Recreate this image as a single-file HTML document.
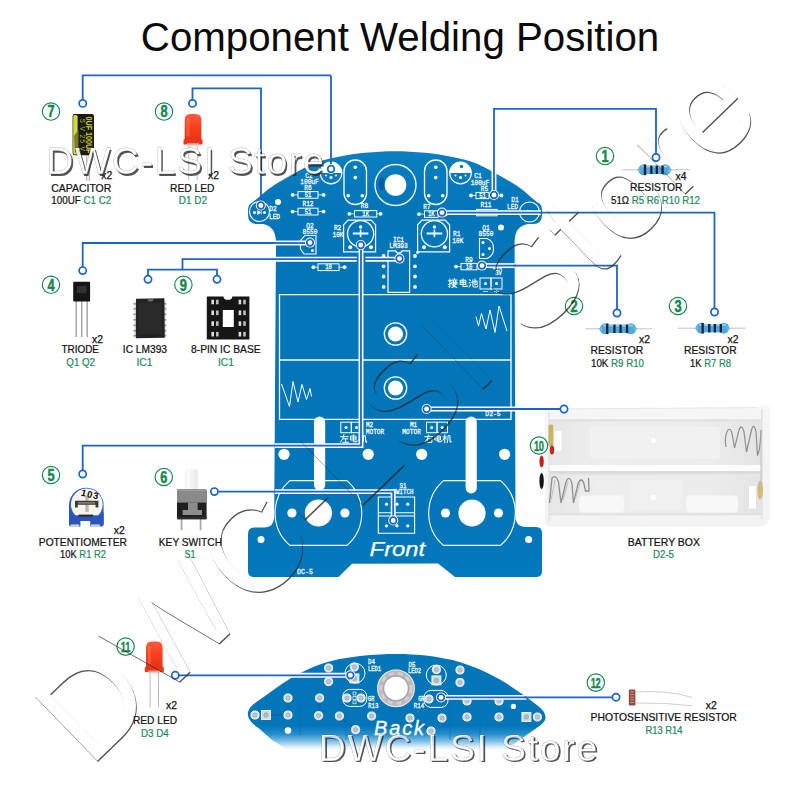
<!DOCTYPE html>
<html><head><meta charset="utf-8"><title>Component Welding Position</title>
<style>html,body{margin:0;padding:0;background:#fff;}body{width:800px;height:800px;overflow:hidden;}svg{display:block;font-family:"Liberation Sans",sans-serif;}</style></head>
<body>
<svg width="800" height="800" viewBox="0 0 800 800">
<rect width="800" height="800" fill="#fff"/>
<text x="400" y="50.5" font-size="40.25" fill="#0b0b0b" text-anchor="middle" id="title">Component Welding Position</text>
<defs><linearGradient id="fb" gradientUnits="userSpaceOnUse" x1="0" y1="150" x2="0" y2="577"><stop offset="0" stop-color="#0a80c0"/><stop offset="0.14" stop-color="#0375b9"/><stop offset="0.8" stop-color="#0375b9"/><stop offset="1" stop-color="#0478bc"/></linearGradient></defs><path d="M252,202.79999999999998 C253.0,202.0 255.0,200.4 258,197.89999999999998 C261.0,195.4 264.7,191.6 270,187.89999999999998 C275.3,184.2 282.5,179.9 290,175.7 C297.5,171.5 307.1,166.0 315,162.89999999999998 C322.9,159.8 329.2,158.6 337.5,156.89999999999998 C345.8,155.2 355.4,153.6 365,152.7 C374.6,151.8 385.0,151.2 395,151.2 C405.0,151.2 415.4,151.8 425,152.7 C434.6,153.6 444.2,155.2 452.5,156.89999999999998 C460.8,158.6 467.1,159.8 475,162.89999999999998 C482.9,166.0 492.5,171.5 500,175.7 C507.5,179.9 514.7,184.2 520,187.89999999999998 C525.3,191.6 529.0,195.4 532,197.89999999999998 C535.0,200.4 537.0,202.0 538,202.79999999999998 Q542,204.5 542,210 L542,215 Q542,224 533,224 L528,224 Q514.6,226 514.6,242 L515.5,516 Q515.5,527 526,527 L536,527 Q542,527 542,533 L542,571 Q542,577 536,577 L455,577 L438,563.6 L352,563.8 L338.5,577 L254,577 Q248,577 248,571 L248,534 Q248,527.5 254,527.5 L264,527.5 Q274,527.5 274.2,516 L276,242 Q275.5,226 263,224 L257,224 Q248,224 248,215 L248,210 Q248,204.5 252,202.8 Z" fill="url(#fb)"/>
<g><circle cx="395.5" cy="185" r="20.5" fill="none" stroke="#fff" stroke-width="1.3"/><ellipse cx="381.6" cy="184" rx="3" ry="6.4" fill="#0a4fa0" opacity="0.75"/><circle cx="395.5" cy="185" r="10.8" fill="#fff"/><rect x="344" y="160" width="22.5" height="44.5" rx="11.2" fill="none" stroke="#fff" stroke-width="1.3"/><circle cx="355.25" cy="167.2" r="1.8" fill="#fff"/><circle cx="355.25" cy="177.6" r="1.8" fill="#fff"/><circle cx="348.25" cy="195.8" r="1.8" fill="#fff"/><circle cx="362.25" cy="195.8" r="1.8" fill="#fff"/><rect x="424.5" y="160" width="22.5" height="44.5" rx="11.2" fill="none" stroke="#fff" stroke-width="1.3"/><circle cx="435.75" cy="167.2" r="1.8" fill="#fff"/><circle cx="435.75" cy="177.6" r="1.8" fill="#fff"/><circle cx="428.75" cy="195.8" r="1.8" fill="#fff"/><circle cx="442.75" cy="195.8" r="1.8" fill="#fff"/><circle cx="331" cy="173" r="10.8" fill="none" stroke="#fff" stroke-width="1.2"/><path d="M320.2,173 A10.8,10.8 0 0 1 341.8,173 Z" fill="#fff"/><circle cx="331" cy="177.5" r="1.6" fill="#fff"/><circle cx="326" cy="175.5" r="1.0" fill="#fff"/><circle cx="336" cy="175.5" r="1.0" fill="#fff"/><circle cx="460.5" cy="173" r="10.8" fill="none" stroke="#fff" stroke-width="1.2"/><path d="M449.7,173 A10.8,10.8 0 0 1 471.3,173 Z" fill="#fff"/><circle cx="460.5" cy="177.5" r="1.6" fill="#fff"/><circle cx="455.5" cy="175.5" r="1.0" fill="#fff"/><circle cx="465.5" cy="175.5" r="1.0" fill="#fff"/><circle cx="461.5" cy="166.5" r="1.7" fill="#0375b9"/><circle cx="259.5" cy="211.5" r="10" fill="none" stroke="#fff" stroke-width="1.1"/><circle cx="254.5" cy="212.5" r="1.5" fill="#fff"/><circle cx="264.5" cy="212.5" r="1.5" fill="#fff"/><path d="M257.5,210.5 L257.5,214.5 L261,212.5 Z M261.3,210.5 L261.3,214.5" fill="#fff" stroke="#fff" stroke-width="0.6"/><circle cx="529.5" cy="212" r="10" fill="none" stroke="#fff" stroke-width="1.1"/><path d="M527.5,210 L527.5,214 L531,212 Z M531.3,210 L531.3,214" fill="#fff" stroke="#fff" stroke-width="0.6"/><circle cx="278" cy="202" r="3" fill="#fff"/><circle cx="501" cy="227.6" r="3" fill="#fff"/><text transform="translate(273,211) scale(1,1.18)" font-size="6.2" fill="#fff" text-anchor="middle" font-family="Liberation Mono, monospace" stroke="#fff" stroke-width="0.22" >D2</text><text transform="translate(274.5,218.6) scale(1,1.18)" font-size="6.2" fill="#fff" text-anchor="middle" font-family="Liberation Mono, monospace" stroke="#fff" stroke-width="0.22" >LED</text><text transform="translate(515,202) scale(1,1.18)" font-size="6.2" fill="#fff" text-anchor="middle" font-family="Liberation Mono, monospace" stroke="#fff" stroke-width="0.22" >D1</text><text transform="translate(512.5,209.4) scale(1,1.18)" font-size="6.2" fill="#fff" text-anchor="middle" font-family="Liberation Mono, monospace" stroke="#fff" stroke-width="0.22" >LED</text><text transform="translate(309,177.6) scale(1,1.18)" font-size="6.2" fill="#fff" text-anchor="middle" font-family="Liberation Mono, monospace" stroke="#fff" stroke-width="0.22" >C2</text><text transform="translate(309.5,184.2) scale(1,1.18)" font-size="6.2" fill="#fff" text-anchor="middle" font-family="Liberation Mono, monospace" stroke="#fff" stroke-width="0.22" >100uF</text><text transform="translate(308,190.3) scale(1,1.18)" font-size="6.2" fill="#fff" text-anchor="middle" font-family="Liberation Mono, monospace" stroke="#fff" stroke-width="0.22" >R6</text><text transform="translate(478,178) scale(1,1.18)" font-size="6.2" fill="#fff" text-anchor="middle" font-family="Liberation Mono, monospace" stroke="#fff" stroke-width="0.22" >C1</text><text transform="translate(480,184.6) scale(1,1.18)" font-size="6.2" fill="#fff" text-anchor="middle" font-family="Liberation Mono, monospace" stroke="#fff" stroke-width="0.22" >100uF</text><text transform="translate(484.5,191) scale(1,1.18)" font-size="6.2" fill="#fff" text-anchor="middle" font-family="Liberation Mono, monospace" stroke="#fff" stroke-width="0.22" >R5</text><rect x="298" y="191.6" width="20" height="6.599999999999994" fill="none" stroke="#fff" stroke-width="1"/><line x1="292.6" y1="194.89999999999998" x2="298" y2="194.89999999999998" stroke="#fff" stroke-width="0.8"/><line x1="318" y1="194.89999999999998" x2="323.6" y2="194.89999999999998" stroke="#fff" stroke-width="0.8"/><circle cx="292.6" cy="194.89999999999998" r="1.9" fill="#fff"/><circle cx="323.6" cy="194.89999999999998" r="1.9" fill="#fff"/><text transform="translate(308.0,197.09999999999997) scale(1,1.18)" font-size="5.6" fill="#fff" text-anchor="middle" font-family="Liberation Mono, monospace" stroke="#fff" stroke-width="0.22" >51</text><text transform="translate(308,206) scale(1,1.18)" font-size="6.2" fill="#fff" text-anchor="middle" font-family="Liberation Mono, monospace" stroke="#fff" stroke-width="0.22" >R12</text><rect x="298" y="208.2" width="20" height="6.800000000000011" fill="none" stroke="#fff" stroke-width="1"/><line x1="292.6" y1="211.6" x2="298" y2="211.6" stroke="#fff" stroke-width="0.8"/><line x1="318" y1="211.6" x2="323.6" y2="211.6" stroke="#fff" stroke-width="0.8"/><circle cx="292.6" cy="211.6" r="1.9" fill="#fff"/><circle cx="323.6" cy="211.6" r="1.9" fill="#fff"/><text transform="translate(308.0,213.79999999999998) scale(1,1.18)" font-size="5.6" fill="#fff" text-anchor="middle" font-family="Liberation Mono, monospace" stroke="#fff" stroke-width="0.22" >51</text><text transform="translate(364.5,208) scale(1,1.18)" font-size="6.2" fill="#fff" text-anchor="middle" font-family="Liberation Mono, monospace" stroke="#fff" stroke-width="0.22" >R8</text><rect x="354.6" y="210.6" width="22.19999999999999" height="6.400000000000006" fill="none" stroke="#fff" stroke-width="1"/><line x1="349.4" y1="213.8" x2="354.6" y2="213.8" stroke="#fff" stroke-width="0.8"/><line x1="376.8" y1="213.8" x2="380.6" y2="213.8" stroke="#fff" stroke-width="0.8"/><circle cx="349.4" cy="213.8" r="1.9" fill="#fff"/><circle cx="380.6" cy="213.8" r="1.9" fill="#fff"/><text transform="translate(365.70000000000005,216.0) scale(1,1.18)" font-size="5.6" fill="#fff" text-anchor="middle" font-family="Liberation Mono, monospace" stroke="#fff" stroke-width="0.22" >1K</text><text transform="translate(427,208.5) scale(1,1.18)" font-size="6.2" fill="#fff" text-anchor="middle" font-family="Liberation Mono, monospace" stroke="#fff" stroke-width="0.22" >R7</text><rect x="424.5" y="210.8" width="13.5" height="6.599999999999994" fill="none" stroke="#fff" stroke-width="1"/><line x1="419" y1="214.10000000000002" x2="424.5" y2="214.10000000000002" stroke="#fff" stroke-width="0.8"/><line x1="438" y1="214.10000000000002" x2="446" y2="214.10000000000002" stroke="#fff" stroke-width="0.8"/><circle cx="419" cy="214.10000000000002" r="1.9" fill="#fff"/><circle cx="446" cy="214.10000000000002" r="1.9" fill="#fff"/><text transform="translate(431.25,216.3) scale(1,1.18)" font-size="5.6" fill="#fff" text-anchor="middle" font-family="Liberation Mono, monospace" stroke="#fff" stroke-width="0.22" >1K</text><rect x="476" y="192.4" width="13" height="6.199999999999989" fill="none" stroke="#fff" stroke-width="1"/><line x1="471" y1="195.5" x2="476" y2="195.5" stroke="#fff" stroke-width="0.8"/><line x1="489" y1="195.5" x2="501.4" y2="195.5" stroke="#fff" stroke-width="0.8"/><circle cx="471" cy="195.5" r="1.9" fill="#fff"/><circle cx="501.4" cy="195.5" r="1.9" fill="#fff"/><text transform="translate(482.5,197.7) scale(1,1.18)" font-size="5.6" fill="#fff" text-anchor="middle" font-family="Liberation Mono, monospace" stroke="#fff" stroke-width="0.22" >51</text><text transform="translate(486,206.6) scale(1,1.18)" font-size="6.2" fill="#fff" text-anchor="middle" font-family="Liberation Mono, monospace" stroke="#fff" stroke-width="0.22" >R11</text><rect x="476.5" y="209.4" width="20.5" height="6.400000000000006" fill="none" stroke="#fff" stroke-width="1"/><line x1="472" y1="212.60000000000002" x2="476.5" y2="212.60000000000002" stroke="#fff" stroke-width="0.8"/><line x1="497" y1="212.60000000000002" x2="501" y2="212.60000000000002" stroke="#fff" stroke-width="0.8"/><circle cx="472" cy="212.60000000000002" r="1.9" fill="#fff"/><circle cx="501" cy="212.60000000000002" r="1.9" fill="#fff"/><rect x="318" y="263.8" width="21" height="6.800000000000011" fill="none" stroke="#fff" stroke-width="1"/><line x1="313.4" y1="267.20000000000005" x2="318" y2="267.20000000000005" stroke="#fff" stroke-width="0.8"/><line x1="339" y1="267.20000000000005" x2="344.6" y2="267.20000000000005" stroke="#fff" stroke-width="0.8"/><circle cx="313.4" cy="267.20000000000005" r="1.9" fill="#fff"/><circle cx="344.6" cy="267.20000000000005" r="1.9" fill="#fff"/><text transform="translate(328.5,269.40000000000003) scale(1,1.18)" font-size="5.6" fill="#fff" text-anchor="middle" font-family="Liberation Mono, monospace" stroke="#fff" stroke-width="0.22" >10</text><text transform="translate(469,262) scale(1,1.18)" font-size="6.2" fill="#fff" text-anchor="middle" font-family="Liberation Mono, monospace" stroke="#fff" stroke-width="0.22" >R9</text><rect x="461" y="263.4" width="16" height="6.400000000000034" fill="none" stroke="#fff" stroke-width="1"/><line x1="456" y1="266.6" x2="461" y2="266.6" stroke="#fff" stroke-width="0.8"/><line x1="477" y1="266.6" x2="484" y2="266.6" stroke="#fff" stroke-width="0.8"/><circle cx="456" cy="266.6" r="1.9" fill="#fff"/><circle cx="484" cy="266.6" r="1.9" fill="#fff"/><text transform="translate(469.0,268.8) scale(1,1.18)" font-size="5.6" fill="#fff" text-anchor="middle" font-family="Liberation Mono, monospace" stroke="#fff" stroke-width="0.22" >10</text><path d="M348.1,220.2 L371.1,220.2 L375.6,224.8 L375.6,251.8 L343.6,251.8 L343.6,224.8 Z" fill="none" stroke="#fff" stroke-width="1.2"/><circle cx="360.6" cy="233.7" r="13.1" fill="none" stroke="#fff" stroke-width="1.3"/><path d="M352.8,233.5 H368.40000000000003" stroke="#fff" stroke-width="2"/><path d="M360.6,229.6 V237.2" stroke="#fff" stroke-width="1.6"/><circle cx="360.6" cy="227" r="1.7" fill="#fff"/><circle cx="350.20000000000005" cy="247.3" r="2" fill="#fff"/><circle cx="371.0" cy="247.3" r="2" fill="#fff"/><path d="M422.1,220.2 L445.1,220.2 L449.6,224.8 L449.6,251.8 L417.6,251.8 L417.6,224.8 Z" fill="none" stroke="#fff" stroke-width="1.2"/><circle cx="434.4" cy="233.7" r="13.1" fill="none" stroke="#fff" stroke-width="1.3"/><path d="M426.59999999999997,233.5 H442.2" stroke="#fff" stroke-width="2"/><path d="M434.4,229.6 V237.2" stroke="#fff" stroke-width="1.6"/><circle cx="434.4" cy="227" r="1.7" fill="#fff"/><circle cx="424.0" cy="247.3" r="2" fill="#fff"/><circle cx="444.79999999999995" cy="247.3" r="2" fill="#fff"/><text transform="translate(337.6,229.6) scale(1,1.18)" font-size="6.2" fill="#fff" text-anchor="middle" font-family="Liberation Mono, monospace" stroke="#fff" stroke-width="0.22" >R2</text><text transform="translate(338,237) scale(1,1.18)" font-size="6.2" fill="#fff" text-anchor="middle" font-family="Liberation Mono, monospace" stroke="#fff" stroke-width="0.22" >10K</text><text transform="translate(456.8,235.6) scale(1,1.18)" font-size="6.2" fill="#fff" text-anchor="middle" font-family="Liberation Mono, monospace" stroke="#fff" stroke-width="0.22" >R1</text><text transform="translate(457.8,242.6) scale(1,1.18)" font-size="6.2" fill="#fff" text-anchor="middle" font-family="Liberation Mono, monospace" stroke="#fff" stroke-width="0.22" >10K</text><text transform="translate(310,228.4) scale(1,1.18)" font-size="6.2" fill="#fff" text-anchor="middle" font-family="Liberation Mono, monospace" stroke="#fff" stroke-width="0.22" >Q2</text><text transform="translate(310,234.2) scale(1,1.18)" font-size="6.2" fill="#fff" text-anchor="middle" font-family="Liberation Mono, monospace" stroke="#fff" stroke-width="0.22" >8550</text><path d="M305,235.5 L316,235.5 L316,254 L304,254 L300.5,249 L300.5,240.5 Z" fill="none" stroke="#fff" stroke-width="1.1"/><circle cx="312.5" cy="250.5" r="1.5" fill="#fff"/><text transform="translate(486,230.2) scale(1,1.18)" font-size="6.2" fill="#fff" text-anchor="middle" font-family="Liberation Mono, monospace" stroke="#fff" stroke-width="0.22" >Q1</text><text transform="translate(486,236.2) scale(1,1.18)" font-size="6.2" fill="#fff" text-anchor="middle" font-family="Liberation Mono, monospace" stroke="#fff" stroke-width="0.22" >8550</text><path d="M479.5,238.5 L487,238.5 Q493.5,241 493.5,248.5 Q493.5,256 487,258.5 L479.5,258.5 Z" fill="none" stroke="#fff" stroke-width="1.1"/><circle cx="483" cy="242.5" r="1.5" fill="#fff"/><circle cx="489.5" cy="248.5" r="1.5" fill="#fff"/><circle cx="483" cy="254.5" r="1.5" fill="#fff"/><text transform="translate(398.5,241.6) scale(1,1.18)" font-size="6.2" fill="#fff" text-anchor="middle" font-family="Liberation Mono, monospace" stroke="#fff" stroke-width="0.22" >IC1</text><text transform="translate(398.5,248) scale(1,1.18)" font-size="6.2" fill="#fff" text-anchor="middle" font-family="Liberation Mono, monospace" stroke="#fff" stroke-width="0.22" >LM393</text><path d="M388,250.8 L395.5,250.8 A3.4,3.4 0 0 0 402,250.8 L409.6,250.8 L409.6,292.4 L388,292.4 Z" fill="none" stroke="#fff" stroke-width="1.2"/><circle cx="383.6" cy="256" r="1.9" fill="#fff"/><circle cx="415" cy="256" r="1.9" fill="#fff"/><circle cx="383.6" cy="266.3" r="1.9" fill="#fff"/><circle cx="415" cy="266.3" r="1.9" fill="#fff"/><circle cx="383.6" cy="276.5" r="1.9" fill="#fff"/><circle cx="415" cy="276.5" r="1.9" fill="#fff"/><circle cx="383.6" cy="286.9" r="1.9" fill="#fff"/><circle cx="415" cy="286.9" r="1.9" fill="#fff"/><circle cx="417.5" cy="252.5" r="1.4" fill="#fff"/><path transform="translate(448.00,278.4) scale(0.940)" d="M0.3,2.6 H3.6 M2,0.4 V8.8 Q2,9.6 0.8,9 M0.3,6.6 L3.6,5 M6.8,0.2 V1.4 M4.4,1.6 H9.6 M5.4,2.3 L5.9,3.6 M8.4,2.3 L7.9,3.6 M4,4.1 H9.8 M6.6,4.4 L5.2,7.6 L9.2,9.6 M8.6,5 Q7.6,8.6 4.2,9.7 M4,6 H9.8" fill="none" stroke="#fff" stroke-width="1.12" stroke-linecap="round" stroke-linejoin="round"/><path transform="translate(458.30,278.4) scale(0.940)" d="M2,2 H8 V6.5 H2 Z M2,4.25 H8 M5,0.4 V8.6 H9.2 V7.4" fill="none" stroke="#fff" stroke-width="1.12" stroke-linecap="round" stroke-linejoin="round"/><path transform="translate(468.60,278.4) scale(0.940)" d="M0.8,1.4 L2,2.4 M0.5,4.4 L1.7,5.2 M0.5,9.2 L2.2,6.6 M3.4,4.2 L9,2.8 V6 Q9,6.6 7.9,6.3 M4.6,1.4 V8 Q4.6,9.1 6,9.1 H9 Q9.8,9.1 9.8,7.6 M6.8,0.4 V7" fill="none" stroke="#fff" stroke-width="1.12" stroke-linecap="round" stroke-linejoin="round"/><rect x="480" y="278" width="11" height="11" fill="none" stroke="#fff" stroke-width="1"/><rect x="491" y="278" width="11" height="11" fill="none" stroke="#fff" stroke-width="1"/><circle cx="485.5" cy="283.5" r="1.5" fill="#fff"/><circle cx="496.5" cy="283.5" r="1.5" fill="#fff"/><text transform="translate(498.6,275.2) scale(1,1.18)" font-size="5.6" fill="#fff" text-anchor="middle" font-family="Liberation Mono, monospace" stroke="#fff" stroke-width="0.22" >3V</text><text transform="translate(497.5,269.2) scale(1,1.18)" font-size="5.2" fill="#fff" text-anchor="middle" font-family="Liberation Mono, monospace" stroke="#fff" stroke-width="0.22" >BT1</text><path d="M483,291.5 h5 M494,291.5 h5 M496.5,290 v3" stroke="#fff" stroke-width="0.7"/><path d="M279.5,294.6 H511 V419.3 H279.5 Z M279.5,360 H511" fill="none" stroke="#fff" stroke-width="1.3"/><path d="M281.5,384 L289.5,406.5 L293,381.5 L298,402 L302,384.5 L306.5,399.5 L310,388.5 L311.5,396.5" fill="none" stroke="#fff" stroke-width="1"/><path d="M476,316.5 L478.5,326 L481.5,313.5 L486,329 L490,310 L495,332.5 L499,306 L507,331" fill="none" stroke="#fff" stroke-width="1"/><circle cx="395.5" cy="334" r="11.2" fill="none" stroke="#fff" stroke-width="1.3"/><circle cx="395.5" cy="334" r="7.6" fill="#fff"/><circle cx="395.5" cy="388" r="11.2" fill="none" stroke="#fff" stroke-width="1.3"/><circle cx="395.5" cy="388" r="7.6" fill="#fff"/><text transform="translate(493,416.2) scale(1,1.18)" font-size="6.4" fill="#fff" text-anchor="middle" font-family="Liberation Mono, monospace" stroke="#fff" stroke-width="0.22" >D2-5</text><rect x="314" y="416.5" width="11.2" height="74" rx="5.6" fill="#fff"/><rect x="465.6" y="416.5" width="11.2" height="77" rx="5.6" fill="#fff"/><rect x="340.8" y="422.2" width="10.5" height="10.5" fill="none" stroke="#fff" stroke-width="1"/><rect x="351.3" y="422.2" width="10.5" height="10.5" fill="none" stroke="#fff" stroke-width="1"/><circle cx="346.0" cy="427.5" r="1.5" fill="#fff"/><circle cx="356.5" cy="427.5" r="1.5" fill="#fff"/><rect x="426.5" y="422.2" width="10.5" height="10.5" fill="none" stroke="#fff" stroke-width="1"/><rect x="437.0" y="422.2" width="10.5" height="10.5" fill="none" stroke="#fff" stroke-width="1"/><circle cx="431.7" cy="427.5" r="1.5" fill="#fff"/><circle cx="442.2" cy="427.5" r="1.5" fill="#fff"/><text transform="translate(369.5,427) scale(1,1.18)" font-size="6" fill="#fff" text-anchor="middle" font-family="Liberation Mono, monospace" stroke="#fff" stroke-width="0.22" >M2</text><text transform="translate(375,433.6) scale(1,1.18)" font-size="6.2" fill="#fff" text-anchor="middle" font-family="Liberation Mono, monospace" stroke="#fff" stroke-width="0.22" >MOTOR</text><text transform="translate(413.5,427) scale(1,1.18)" font-size="6" fill="#fff" text-anchor="middle" font-family="Liberation Mono, monospace" stroke="#fff" stroke-width="0.22" >M1</text><text transform="translate(411.6,433.6) scale(1,1.18)" font-size="6.2" fill="#fff" text-anchor="middle" font-family="Liberation Mono, monospace" stroke="#fff" stroke-width="0.22" >MOTOR</text><path transform="translate(340.00,434.4) scale(0.860)" d="M0.4,2.6 H9.6 M4.6,0.4 Q3.6,5.6 0.6,9.2 M4,5.2 H9.2 M6.6,5.2 V9.2 M3.4,9.2 H9.8" fill="none" stroke="#fff" stroke-width="1.16" stroke-linecap="round" stroke-linejoin="round"/><path transform="translate(349.10,434.4) scale(0.860)" d="M2,2 H8 V6.5 H2 Z M2,4.25 H8 M5,0.4 V8.6 H9.2 V7.4" fill="none" stroke="#fff" stroke-width="1.16" stroke-linecap="round" stroke-linejoin="round"/><path transform="translate(358.20,434.4) scale(0.860)" d="M0.4,3 H4.6 M2.5,0.4 V9.6 M2.4,3.6 L0.4,6.8 M2.6,3.8 L4.6,5.8 M5.4,9.6 Q6.4,6 6.4,1.5 H8.6 V8.4 Q8.6,9.3 9.8,9.3 V7.8" fill="none" stroke="#fff" stroke-width="1.16" stroke-linecap="round" stroke-linejoin="round"/><path transform="translate(424.40,434.4) scale(0.860)" d="M0.4,2.6 H9.6 M5,0.4 Q4,5.6 0.6,9.2 M3.8,5.2 H8.8 V9.2 H3.8 Z" fill="none" stroke="#fff" stroke-width="1.16" stroke-linecap="round" stroke-linejoin="round"/><path transform="translate(433.50,434.4) scale(0.860)" d="M2,2 H8 V6.5 H2 Z M2,4.25 H8 M5,0.4 V8.6 H9.2 V7.4" fill="none" stroke="#fff" stroke-width="1.16" stroke-linecap="round" stroke-linejoin="round"/><path transform="translate(442.60,434.4) scale(0.860)" d="M0.4,3 H4.6 M2.5,0.4 V9.6 M2.4,3.6 L0.4,6.8 M2.6,3.8 L4.6,5.8 M5.4,9.6 Q6.4,6 6.4,1.5 H8.6 V8.4 Q8.6,9.3 9.8,9.3 V7.8" fill="none" stroke="#fff" stroke-width="1.16" stroke-linecap="round" stroke-linejoin="round"/><circle cx="284" cy="454.3" r="5.6" fill="#fff"/><circle cx="368.2" cy="454.3" r="5.6" fill="#fff"/><circle cx="421.7" cy="454.3" r="5.6" fill="#fff"/><circle cx="504.6" cy="454.3" r="5.6" fill="#fff"/><circle cx="261" cy="539.4" r="3.5" fill="#fff"/><circle cx="528.6" cy="539.4" r="3.5" fill="#fff"/><path d="M289.79999999999995,480.6 H347.0 A43,43 0 0 1 347.0,545.4 H289.79999999999995 A43,43 0 0 1 289.79999999999995,480.6 Z" fill="none" stroke="#fff" stroke-width="1.1"/><circle cx="318.4" cy="513" r="13.6" fill="#fff"/><circle cx="291.9" cy="513" r="4.6" fill="#fff"/><circle cx="344.9" cy="513" r="4.6" fill="#fff"/><path d="M443.4,480.6 H500.6 A43,43 0 0 1 500.6,545.4 H443.4 A43,43 0 0 1 443.4,480.6 Z" fill="none" stroke="#fff" stroke-width="1.1"/><circle cx="472" cy="513" r="13.6" fill="#fff"/><circle cx="445.5" cy="513" r="4.6" fill="#fff"/><circle cx="498.5" cy="513" r="4.6" fill="#fff"/><text transform="translate(403,487.6) scale(1,1.18)" font-size="5.8" fill="#fff" text-anchor="middle" font-family="Liberation Mono, monospace" stroke="#fff" stroke-width="0.22" >S1</text><text transform="translate(403,494.4) scale(1,1.18)" font-size="5.8" fill="#fff" text-anchor="middle" font-family="Liberation Mono, monospace" stroke="#fff" stroke-width="0.22" >SWITCH</text><path d="M378.3,497 H414.6 V533.3 H378.3 Z M378.3,512.8 H414.6 M378.3,516 H414.6" fill="none" stroke="#fff" stroke-width="1.1"/><circle cx="386.5" cy="504.2" r="1.6" fill="#fff"/><circle cx="386.5" cy="525.8" r="1.6" fill="#fff"/><circle cx="397" cy="504.2" r="1.6" fill="#fff"/><circle cx="397" cy="525.8" r="1.6" fill="#fff"/><circle cx="407.8" cy="504.2" r="1.6" fill="#fff"/><circle cx="407.8" cy="525.8" r="1.6" fill="#fff"/><text x="369.6" y="555.6" font-size="20.4" font-style="italic" fill="#fff" textLength="55.6" lengthAdjust="spacingAndGlyphs" stroke="#fff" stroke-width="0.25">Front</text><text transform="translate(305,574.4) scale(1,1.18)" font-size="6.6" fill="#fff" text-anchor="middle" font-family="Liberation Mono, monospace" stroke="#fff" stroke-width="0.22" >DC-5</text></g>
<g><defs><linearGradient id="bb" x1="0" y1="0" x2="0" y2="1"><stop offset="0" stop-color="#f6f6f6"/><stop offset="1" stop-color="#f3f3f3"/></linearGradient><linearGradient id="bsh" x1="0" y1="0" x2="0" y2="1"><stop offset="0" stop-color="#d4d4d4"/><stop offset="1" stop-color="#ebebeb"/></linearGradient><linearGradient id="bfl" x1="0" y1="0" x2="1" y2="0"><stop offset="0" stop-color="#e6e6e6"/><stop offset="0.25" stop-color="#eeeeee"/><stop offset="0.75" stop-color="#ececec"/><stop offset="1" stop-color="#e4e4e4"/></linearGradient></defs><path d="M544.8,412 Q544.8,409 548,409 L758,407.6 Q760,404.6 765,404.6 Q769.6,404.6 769.6,409 L769.6,516 Q769.6,526.8 759,526.8 L551,526.8 Q544.8,526.8 544.8,521 Z" fill="url(#bb)"/><path d="M544.8,412 Q544.8,409 548,409 L758,407.6" fill="none" stroke="#e2e2e2" stroke-width="0.8"/><rect x="549.5" y="420.5" width="211.5" height="45" fill="url(#bfl)"/><rect x="549.5" y="475" width="211.5" height="39.5" fill="url(#bfl)"/><rect x="549.5" y="419.2" width="211.5" height="2.2" fill="#e0e0e0"/><rect x="548" y="465" width="213" height="6.2" fill="#fcfcfc"/><rect x="549.5" y="471.2" width="211.5" height="4.6" fill="url(#bsh)"/><rect x="549.5" y="513.6" width="211.5" height="1.6" fill="#dfdfdf"/><rect x="590" y="427" width="130" height="32" rx="3" fill="#f1f1f1"/><rect x="579" y="495.5" width="45" height="17" rx="4" fill="#f8f8f8"/><rect x="686" y="495.5" width="52" height="17" rx="4" fill="#f8f8f8"/><rect x="630" y="480" width="52" height="30" fill="#f0f0f0"/><rect x="761.4" y="409" width="1.1" height="110" fill="#d8d8d8"/><rect x="548.6" y="412" width="1" height="110" fill="#dcdcdc"/><rect x="548.4" y="424.6" width="4.8" height="21.5" rx="1.5" fill="#c9b364"/><rect x="554.5" y="431" width="7" height="20" fill="#fff"/><ellipse cx="552" cy="450" rx="2.2" ry="4.6" fill="#c22"/><ellipse cx="541.6" cy="461.5" rx="2.2" ry="6" fill="#c41e1e"/><ellipse cx="541.6" cy="481" rx="2.2" ry="8" fill="#161616"/><ellipse cx="760.2" cy="490" rx="2.8" ry="9.6" fill="#cdbd78"/><rect x="749" y="486" width="7" height="22.5" fill="#fff"/><circle cx="653.4" cy="440.5" r="2.6" fill="#fff"/><circle cx="653.4" cy="497.4" r="2.6" fill="#fff"/><path d="M549.5,503 L552,478 Q556,474 558.5,482 L561,503 L566,482 Q569.5,474 572,484 L573.5,503 L578,484 Q581.5,476 584,484 L585.5,491 L589,491 L588.5,478" fill="none" stroke="#8f8f8f" stroke-width="1.3"/><path d="M551,500 L555,480 M563,500 L568,482 M575.5,498 L580,483" fill="none" stroke="#bdbdbd" stroke-width="1"/><path d="M726,447 Q724,436 728,430 Q731,427 732.5,436 L734.5,448 L739,430 Q741.5,423 744,432 L746.5,452 L751.5,430 Q754,422 756,432 L757.5,455 Q760,452 761,430" fill="none" stroke="#8f8f8f" stroke-width="1.2"/><path d="M761,430 V486" stroke="#b9b9b9" stroke-width="0.8"/></g>
<g><path d="M82.7,100 V75.4 H331" fill="none" stroke="#1c64c8" stroke-width="1.8" stroke-linejoin="miter"/><path d="M331,75.4 V165.5" fill="none" stroke="#1c64c8" stroke-width="1.8" stroke-linejoin="miter"/><path d="M192.5,100 V88.4 H261 V202" fill="none" stroke="#1c64c8" stroke-width="1.8" stroke-linejoin="miter"/><path d="M82.7,267 V243 H277" fill="none" stroke="#1c64c8" stroke-width="1.8" stroke-linejoin="miter"/><path d="M275,243 H307" fill="none" stroke="#fff" stroke-width="4.9" stroke-linejoin="miter"/><path d="M275,243 H307" fill="none" stroke="#1c64c8" stroke-width="1.8" stroke-linejoin="miter"/><path d="M148,276 V269.7 H217 V276 M182.5,269.7 V259.2 H277" fill="none" stroke="#1c64c8" stroke-width="1.8" stroke-linejoin="miter"/><path d="M275,259.2 H396" fill="none" stroke="#fff" stroke-width="4.9" stroke-linejoin="miter"/><path d="M275,259.2 H396" fill="none" stroke="#1c64c8" stroke-width="1.8" stroke-linejoin="miter"/><path d="M82.7,470.5 V445.6 H277" fill="none" stroke="#1c64c8" stroke-width="1.8" stroke-linejoin="miter"/><rect x="356.8" y="255.5" width="8.6" height="7.4" fill="#0375b9"/><path d="M275,445.6 H361 V248.5" fill="none" stroke="#fff" stroke-width="4.9" stroke-linejoin="miter"/><path d="M275,445.6 H361 V248.5" fill="none" stroke="#1c64c8" stroke-width="1.8" stroke-linejoin="miter"/><path d="M218,491.6 H277" fill="none" stroke="#1c64c8" stroke-width="1.8" stroke-linejoin="miter"/><path d="M275,491.6 H393.2 V517" fill="none" stroke="#fff" stroke-width="4.9" stroke-linejoin="miter"/><path d="M275,491.6 H393.2 V517" fill="none" stroke="#1c64c8" stroke-width="1.8" stroke-linejoin="miter"/><path d="M494,191.5 V108.8 H656 V154" fill="none" stroke="#1c64c8" stroke-width="1.8" stroke-linejoin="miter"/><path d="M494,191.5 V161" fill="none" stroke="#fff" stroke-width="4.9" stroke-linejoin="miter"/><path d="M494,191.5 V161" fill="none" stroke="#1c64c8" stroke-width="1.8" stroke-linejoin="miter"/><path d="M445.5,212.6 H541" fill="none" stroke="#fff" stroke-width="4.9" stroke-linejoin="miter"/><path d="M445.5,212.6 H541" fill="none" stroke="#1c64c8" stroke-width="1.8" stroke-linejoin="miter"/><path d="M540,212.6 H714.5 V308.5" fill="none" stroke="#1c64c8" stroke-width="1.8" stroke-linejoin="miter"/><path d="M485.5,265.6 H516" fill="none" stroke="#fff" stroke-width="4.9" stroke-linejoin="miter"/><path d="M485.5,265.6 H516" fill="none" stroke="#1c64c8" stroke-width="1.8" stroke-linejoin="miter"/><path d="M514,265.6 H617 V309.5" fill="none" stroke="#1c64c8" stroke-width="1.8" stroke-linejoin="miter"/><path d="M430,409 H516" fill="none" stroke="#fff" stroke-width="4.9" stroke-linejoin="miter"/><path d="M430,409 H516" fill="none" stroke="#1c64c8" stroke-width="1.8" stroke-linejoin="miter"/><path d="M514,409 H560.5" fill="none" stroke="#1c64c8" stroke-width="1.8" stroke-linejoin="miter"/><circle cx="82.7" cy="103.4" r="3.6" fill="#fff" stroke="#1c64c8" stroke-width="1.7"/><circle cx="192.5" cy="103.4" r="3.6" fill="#fff" stroke="#1c64c8" stroke-width="1.7"/><circle cx="82.7" cy="270.6" r="3.6" fill="#fff" stroke="#1c64c8" stroke-width="1.7"/><circle cx="148" cy="279.3" r="3.6" fill="#fff" stroke="#1c64c8" stroke-width="1.7"/><circle cx="217" cy="279.3" r="3.6" fill="#fff" stroke="#1c64c8" stroke-width="1.7"/><circle cx="82.7" cy="474" r="3.6" fill="#fff" stroke="#1c64c8" stroke-width="1.7"/><circle cx="214.4" cy="491.6" r="3.6" fill="#fff" stroke="#1c64c8" stroke-width="1.7"/><circle cx="656" cy="157.5" r="3.6" fill="#fff" stroke="#1c64c8" stroke-width="1.7"/><circle cx="714.5" cy="312" r="3.6" fill="#fff" stroke="#1c64c8" stroke-width="1.7"/><circle cx="617" cy="313" r="3.6" fill="#fff" stroke="#1c64c8" stroke-width="1.7"/><circle cx="564" cy="409" r="3.6" fill="#fff" stroke="#1c64c8" stroke-width="1.7"/><circle cx="331" cy="169" r="5.0" fill="#fff"/><circle cx="331" cy="169" r="3.3" fill="#fff" stroke="#1c64c8" stroke-width="1.7"/><circle cx="260.8" cy="205.5" r="5.0" fill="#fff"/><circle cx="260.8" cy="205.5" r="3.3" fill="#fff" stroke="#1c64c8" stroke-width="1.7"/><circle cx="310" cy="242.6" r="5.0" fill="#fff"/><circle cx="310" cy="242.6" r="3.3" fill="#fff" stroke="#1c64c8" stroke-width="1.7"/><circle cx="399.5" cy="258.6" r="5.0" fill="#fff"/><circle cx="399.5" cy="258.6" r="3.3" fill="#fff" stroke="#1c64c8" stroke-width="1.7"/><circle cx="360.8" cy="245" r="5.0" fill="#fff"/><circle cx="360.8" cy="245" r="3.3" fill="#fff" stroke="#1c64c8" stroke-width="1.7"/><circle cx="393.2" cy="520.5" r="5.0" fill="#fff"/><circle cx="393.2" cy="520.5" r="3.3" fill="#fff" stroke="#1c64c8" stroke-width="1.7"/><circle cx="494" cy="195" r="5.0" fill="#fff"/><circle cx="494" cy="195" r="3.3" fill="#fff" stroke="#1c64c8" stroke-width="1.7"/><circle cx="442" cy="212.6" r="5.0" fill="#fff"/><circle cx="442" cy="212.6" r="3.3" fill="#fff" stroke="#1c64c8" stroke-width="1.7"/><circle cx="482" cy="265.6" r="5.0" fill="#fff"/><circle cx="482" cy="265.6" r="3.3" fill="#fff" stroke="#1c64c8" stroke-width="1.7"/><circle cx="426.6" cy="409" r="5.0" fill="#fff"/><circle cx="426.6" cy="409" r="3.3" fill="#fff" stroke="#1c64c8" stroke-width="1.7"/></g>
<circle cx="51" cy="111.5" r="8.7" fill="#fff" stroke="#14864f" stroke-width="1.15"/><text transform="translate(51,117.2) scale(0.8,1)" font-size="16" font-weight="bold" fill="#14864f" stroke="#14864f" stroke-width="0.5" text-anchor="middle">7</text>
<circle cx="164" cy="111.5" r="8.7" fill="#fff" stroke="#14864f" stroke-width="1.15"/><text transform="translate(164,117.2) scale(0.8,1)" font-size="16" font-weight="bold" fill="#14864f" stroke="#14864f" stroke-width="0.5" text-anchor="middle">8</text>
<circle cx="51" cy="284.8" r="8.7" fill="#fff" stroke="#14864f" stroke-width="1.15"/><text transform="translate(51,290.5) scale(0.8,1)" font-size="16" font-weight="bold" fill="#14864f" stroke="#14864f" stroke-width="0.5" text-anchor="middle">4</text>
<circle cx="183.4" cy="284.8" r="8.7" fill="#fff" stroke="#14864f" stroke-width="1.15"/><text transform="translate(183.4,290.5) scale(0.8,1)" font-size="16" font-weight="bold" fill="#14864f" stroke="#14864f" stroke-width="0.5" text-anchor="middle">9</text>
<circle cx="51" cy="475" r="8.7" fill="#fff" stroke="#14864f" stroke-width="1.15"/><text transform="translate(51,480.7) scale(0.8,1)" font-size="16" font-weight="bold" fill="#14864f" stroke="#14864f" stroke-width="0.5" text-anchor="middle">5</text>
<circle cx="163.8" cy="477" r="8.7" fill="#fff" stroke="#14864f" stroke-width="1.15"/><text transform="translate(163.8,482.7) scale(0.8,1)" font-size="16" font-weight="bold" fill="#14864f" stroke="#14864f" stroke-width="0.5" text-anchor="middle">6</text>
<circle cx="605" cy="156" r="8.7" fill="#fff" stroke="#14864f" stroke-width="1.15"/><text transform="translate(605,161.7) scale(0.8,1)" font-size="16" font-weight="bold" fill="#14864f" stroke="#14864f" stroke-width="0.5" text-anchor="middle">1</text>
<circle cx="574" cy="306" r="8.7" fill="#fff" stroke="#14864f" stroke-width="1.15"/><text transform="translate(574,311.7) scale(0.8,1)" font-size="16" font-weight="bold" fill="#14864f" stroke="#14864f" stroke-width="0.5" text-anchor="middle">2</text>
<circle cx="678" cy="306" r="8.7" fill="#fff" stroke="#14864f" stroke-width="1.15"/><text transform="translate(678,311.7) scale(0.8,1)" font-size="16" font-weight="bold" fill="#14864f" stroke="#14864f" stroke-width="0.5" text-anchor="middle">3</text>
<circle cx="539" cy="445.5" r="8.7" fill="#fff" stroke="#14864f" stroke-width="1.15"/><text transform="translate(538.8,450.8) scale(0.62,1)" font-size="15" font-weight="bold" fill="#14864f" stroke="#14864f" stroke-width="0.4" text-anchor="middle" letter-spacing="-0.6">10</text>
<circle cx="125.6" cy="646.6" r="8.7" fill="#fff" stroke="#14864f" stroke-width="1.15"/><text transform="translate(125.39999999999999,651.9) scale(0.62,1)" font-size="15" font-weight="bold" fill="#14864f" stroke="#14864f" stroke-width="0.4" text-anchor="middle" letter-spacing="-0.6">11</text>
<circle cx="595.8" cy="682.6" r="8.7" fill="#fff" stroke="#14864f" stroke-width="1.15"/><text transform="translate(595.5999999999999,687.9) scale(0.62,1)" font-size="15" font-weight="bold" fill="#14864f" stroke="#14864f" stroke-width="0.4" text-anchor="middle" letter-spacing="-0.6">12</text>
<g><path d="M86.8,154 V181 M89.3,154 V181" stroke="#9a9a9a" stroke-width="0.9"/><rect x="72.6" y="114" width="21.4" height="41.2" rx="2.2" fill="#1a1a14"/><rect x="73.2" y="115" width="4.4" height="39.4" rx="1.5" fill="#d6d838"/><path d="M74,136 L78.5,130 L78.5,150 L75,153 Z" fill="#7a7c22"/><text transform="translate(85.6,116.5) rotate(90)" font-size="8.2" fill="#cfd13e" font-weight="bold" textLength="37" lengthAdjust="spacingAndGlyphs">0UF 100UF</text><text transform="translate(79.6,119) rotate(90)" font-size="6.6" fill="#b9bb38" textLength="32" lengthAdjust="spacing">5 V  25 V</text><defs><linearGradient id="ledg" x1="0" y1="0" x2="0" y2="1"><stop offset="0" stop-color="#ff5a3e"/><stop offset="0.5" stop-color="#f6401f"/><stop offset="1" stop-color="#ea3217"/></linearGradient></defs><path d="M188.8,144 V180 M197.2,144 V180" stroke="#b4b4b4" stroke-width="0.9"/><path d="M184.7,140 V120 Q184.7,114 190.5,114 H195.5 Q201.3,114 201.3,120 V140 Z" fill="url(#ledg)"/><rect x="183.5" y="139.2" width="19" height="5.4" rx="1.2" fill="#ee3519"/><rect x="187.0" y="143" width="12" height="2.4" fill="#f9b4a6" opacity="0.85"/><rect x="186.5" y="118" width="3" height="19" rx="1.5" fill="#ff7a5c" opacity="0.45"/><path d="M150.10000000000002,671.5 V707.5 M158.5,671.5 V707.5" stroke="#b4b4b4" stroke-width="0.9"/><path d="M146.0,667.5 V647.5 Q146.0,641.5 151.8,641.5 H156.8 Q162.60000000000002,641.5 162.60000000000002,647.5 V667.5 Z" fill="url(#ledg)"/><rect x="144.8" y="666.7" width="19" height="5.4" rx="1.2" fill="#ee3519"/><rect x="148.3" y="670.5" width="12" height="2.4" fill="#f9b4a6" opacity="0.85"/><rect x="147.8" y="645.5" width="3" height="19" rx="1.5" fill="#ff7a5c" opacity="0.45"/><path d="M76.2,300 V337 M81.7,300 V337 M87.2,300 V337" stroke="#a2a2a2" stroke-width="1.4"/><rect x="73.2" y="281.8" width="16.9" height="19.6" rx="1" fill="#151515"/><rect x="77" y="286" width="9.5" height="7" fill="#3a3a3a" opacity="0.8"/><rect x="134" y="301" width="32" height="35" fill="#d4d4d4" opacity="0.6"/><rect x="133.4" y="303" width="33" height="1.6" fill="#9a9a9a"/><rect x="133.4" y="308" width="33" height="1.6" fill="#9a9a9a"/><rect x="133.4" y="313.5" width="33" height="1.6" fill="#9a9a9a"/><rect x="133.4" y="319" width="33" height="1.6" fill="#9a9a9a"/><rect x="133.4" y="324.5" width="33" height="1.6" fill="#9a9a9a"/><rect x="133.4" y="330" width="33" height="1.6" fill="#9a9a9a"/><rect x="133.4" y="335" width="33" height="1.6" fill="#9a9a9a"/><path d="M136,298.8 L164.4,298.2 L164.8,337.8 L135.8,338.2 Z" fill="#232323"/><path d="M147.5,299.3 A3,2.6 0 0 0 153.5,299.1 Z" fill="#666"/><rect x="139" y="303" width="23" height="31" fill="#2f2f2f" opacity="0.6"/><path d="M206.8,296.4 H223.5 A4.4,3.4 0 0 0 232.3,296.4 H249.4 V339.4 H206.8 Z" fill="#161616"/><rect x="222.8" y="310" width="11" height="17" fill="#fff"/><rect x="211.4" y="299.7" width="2.6" height="4.6" fill="#dcdcdc"/><rect x="216" y="299.7" width="2.6" height="4.6" fill="#bdbdbd"/><rect x="238.6" y="299.7" width="2.6" height="4.6" fill="#dcdcdc"/><rect x="243.2" y="299.7" width="2.6" height="4.6" fill="#bdbdbd"/><rect x="211.4" y="310.5" width="2.6" height="4.6" fill="#dcdcdc"/><rect x="216" y="310.5" width="2.6" height="4.6" fill="#bdbdbd"/><rect x="238.6" y="310.5" width="2.6" height="4.6" fill="#dcdcdc"/><rect x="243.2" y="310.5" width="2.6" height="4.6" fill="#bdbdbd"/><rect x="211.4" y="321.3" width="2.6" height="4.6" fill="#dcdcdc"/><rect x="216" y="321.3" width="2.6" height="4.6" fill="#bdbdbd"/><rect x="238.6" y="321.3" width="2.6" height="4.6" fill="#dcdcdc"/><rect x="243.2" y="321.3" width="2.6" height="4.6" fill="#bdbdbd"/><rect x="211.4" y="331.9" width="2.6" height="4.6" fill="#dcdcdc"/><rect x="216" y="331.9" width="2.6" height="4.6" fill="#bdbdbd"/><rect x="238.6" y="331.9" width="2.6" height="4.6" fill="#dcdcdc"/><rect x="243.2" y="331.9" width="2.6" height="4.6" fill="#bdbdbd"/><path d="M69,524.6 V505 A17.3,17.2 0 0 1 103.6,505 V524.6 Q103.6,526.6 101.6,526.6 H71 Q69,526.6 69,524.6 Z" fill="#2b5bc6"/><clipPath id="pc"><rect x="60" y="480" width="60" height="35.6"/></clipPath><circle cx="86.8" cy="504.4" r="15.9" fill="#f5f4ee" clip-path="url(#pc)"/><path d="M69,512 Q72,516.4 79,515.6 H94 Q101,516.4 103.6,512 V524.6 H69 Z" fill="#2a55bd"/><rect x="78.6" y="514.6" width="14.4" height="2" fill="#2a2a2a"/><rect x="85.3" y="495.6" width="3.4" height="16.2" fill="#b9b8ae"/><path d="M75,500.8 H98.4 V507.6 H95.6 V504.8 H77.8 V507.6 H75 Z" fill="#3a3a36"/><rect x="78" y="502.2" width="17" height="1.4" fill="#8c8b84"/><text transform="translate(89.6,497.6) rotate(13)" font-size="9.4" font-weight="bold" fill="#0c0c0c" text-anchor="middle" letter-spacing="1">103</text><rect x="80.4" y="521" width="9.8" height="6" fill="#fff"/><rect x="70.6" y="524.4" width="8.6" height="2.6" fill="#c9cedb"/><rect x="91" y="524.4" width="8.8" height="2.6" fill="#c9cedb"/><path d="M181.6,518 V530.2 M200.6,518 V530.2" stroke="#a9a9a9" stroke-width="1.8"/><rect x="185" y="469.2" width="13.4" height="21" rx="1.2" fill="#f3f3f3"/><rect x="186.2" y="470" width="4" height="19" fill="#fbfbfb"/><rect x="194" y="470" width="3.6" height="19" fill="#ececec"/><rect x="177" y="489.6" width="29.6" height="29.6" rx="1" fill="#1f1f1f"/><rect x="177" y="489.6" width="29.6" height="13" fill="#8a8a8a"/><rect x="177" y="489.6" width="29.6" height="1.4" fill="#9c9c9c"/><path d="M188,502.4 H197.6 V510 H202 V515 H182.6 V510 H188 Z" fill="#8c8c8c"/><rect x="177" y="516.8" width="29.6" height="2.4" fill="#2e2e2e"/><line x1="622.5" y1="169.8" x2="690" y2="169.8" stroke="#c2c2c2" stroke-width="1"/><rect x="642.5" y="165.60000000000002" width="24.0" height="8.4" fill="#4fa9dc"/><ellipse cx="643.7" cy="169.8" rx="5.4" ry="5.5" fill="#4fa9dc"/><ellipse cx="665.3" cy="169.8" rx="5.4" ry="5.5" fill="#4fa9dc"/><path d="M637.0,169.8 L640.5,167.20000000000002 V172.4 Z M672.0,169.8 L668.5,167.20000000000002 V172.4 Z" fill="#6fb8e0"/><rect x="641.5" y="165.5" width="26.0" height="2" fill="#a9dcf4" opacity="0.7"/><rect x="643.8" y="164.5" width="2.3" height="10.6" fill="#14223c"/><rect x="650.1999999999999" y="165.60000000000002" width="2.3" height="8.4" fill="#14223c"/><rect x="655.64" y="165.60000000000002" width="2.3" height="8.4" fill="#14223c"/><rect x="661.4" y="165.60000000000002" width="2.3" height="8.4" fill="#14223c"/><line x1="585.5" y1="328.8" x2="652" y2="328.8" stroke="#c2c2c2" stroke-width="1"/><rect x="604" y="324.6" width="28" height="8.4" fill="#4fa9dc"/><ellipse cx="605.2" cy="328.8" rx="5.4" ry="5.5" fill="#4fa9dc"/><ellipse cx="630.8" cy="328.8" rx="5.4" ry="5.5" fill="#4fa9dc"/><path d="M598.5,328.8 L602,326.2 V331.40000000000003 Z M637.5,328.8 L634,326.2 V331.40000000000003 Z" fill="#6fb8e0"/><rect x="603" y="324.5" width="30" height="2" fill="#a9dcf4" opacity="0.7"/><rect x="606.1" y="323.5" width="2.3" height="10.6" fill="#14223c"/><rect x="613.3" y="324.6" width="2.3" height="8.4" fill="#14223c"/><rect x="619.42" y="324.6" width="2.3" height="8.4" fill="#14223c"/><rect x="625.9" y="324.6" width="2.3" height="8.4" fill="#14223c"/><line x1="678" y1="328.2" x2="745.5" y2="328.2" stroke="#c2c2c2" stroke-width="1"/><rect x="700" y="324.0" width="25" height="8.4" fill="#4fa9dc"/><ellipse cx="701.2" cy="328.2" rx="5.4" ry="5.5" fill="#4fa9dc"/><ellipse cx="723.8" cy="328.2" rx="5.4" ry="5.5" fill="#4fa9dc"/><path d="M694.5,328.2 L698,325.59999999999997 V330.8 Z M730.5,328.2 L727,325.59999999999997 V330.8 Z" fill="#6fb8e0"/><rect x="699" y="323.9" width="27" height="2" fill="#a9dcf4" opacity="0.7"/><rect x="701.5" y="322.9" width="2.3" height="10.6" fill="#14223c"/><rect x="708.1" y="324.0" width="2.3" height="8.4" fill="#14223c"/><rect x="713.7099999999999" y="324.0" width="2.3" height="8.4" fill="#14223c"/><rect x="719.65" y="324.0" width="2.3" height="8.4" fill="#14223c"/><path d="M635.5,692 Q665,689.5 692.5,697.5 M635.5,703 Q665,702.5 692.5,705.8" fill="none" stroke="#c9c9c9" stroke-width="0.9"/><rect x="628.8" y="689.6" width="6.6" height="16" rx="0.8" fill="#8e4e40"/><path d="M630.4,692 h3.4 M630.4,694.6 h3.4 M630.4,697.2 h3.4 M630.4,699.8 h3.4 M630.4,702.4 h3.4" stroke="#e0b4a4" stroke-width="0.8"/></g>
<g><defs><linearGradient id="bf" gradientUnits="userSpaceOnUse" x1="0" y1="726" x2="0" y2="750"><stop offset="0" stop-color="#0375b9"/><stop offset="0.35" stop-color="#2a8ecd"/><stop offset="0.65" stop-color="#85c2e7"/><stop offset="0.88" stop-color="#e2f1fa"/><stop offset="1" stop-color="#fff"/></linearGradient></defs><path d="M247.8,715 C247.9,714.2 247.8,712.2 248.6,710.5 C249.4,708.8 249.8,707.4 252.5,705 C255.2,702.6 260.8,699.0 265,696 C269.2,693.0 273.3,689.9 277.5,687 C281.7,684.1 285.8,681.3 290,678.8 C294.2,676.3 298.3,674.1 302.5,672 C306.7,669.9 310.8,667.9 315,666.2 C319.2,664.5 323.3,663.2 327.5,662 C331.7,660.8 334.6,660.0 340,659 C345.4,658.0 353.3,656.8 360,656 C366.7,655.2 374.0,654.7 380,654.4 C386.0,654.1 390.7,654.0 396,654 C401.3,654.0 406.3,654.1 412,654.4 C417.7,654.7 423.7,655.1 430,656 C436.3,656.9 444.6,658.4 450,659.6 C455.4,660.8 458.3,661.7 462.5,663 C466.7,664.3 470.8,665.9 475,667.6 C479.2,669.3 483.3,671.0 487.5,673 C491.7,675.0 495.8,677.2 500,679.6 C504.2,682.0 508.3,684.7 512.5,687.4 C516.7,690.1 520.8,693.0 525,696 C529.2,699.0 534.4,703.0 537.5,705.6 C540.6,708.2 542.3,709.7 543.6,711.6 C544.9,713.5 545.2,716.1 545.5,717 Q546,722 538,727 L505,750 L400,757 L295,755 L272,740 L258.5,728 Q249,722 247.8,715 Z" fill="url(#bf)"/><path d="M288,698 V715 M319.6,698 V716 M328.6,668 V682 M266,715 H288 M460,670 V682 M467,701 V717 M499,701 V717 M339.4,716 L355.6,729.6 M410,718 L431,731 M526,717 H537" stroke="#0565a6" stroke-width="1.6" fill="none" opacity="0.8"/><path d="M300,705 V735 M346,705 V740 M450,705 V740 M480,690 V740 M300,705 H346" stroke="#0a6db0" stroke-width="1" fill="none" opacity="0.6"/><circle cx="396" cy="688.3" r="18.8" fill="#bdb9bd"/><circle cx="396" cy="688.3" r="18.3" fill="none" stroke="#e4e2e4" stroke-width="1.2"/><circle cx="396" cy="688.3" r="15" fill="none" stroke="#d8d5d8" stroke-width="3" stroke-dasharray="5 4" opacity="0.8"/><circle cx="396" cy="688.3" r="12.6" fill="none" stroke="#a5a0a6" stroke-width="1.4" opacity="0.8"/><circle cx="396" cy="688.3" r="11.6" fill="#fff"/><circle cx="328.6" cy="668" r="4.1" fill="#e2e7eb" stroke="#f4f7f9" stroke-width="0.9"/><circle cx="328.6" cy="668" r="2.2" fill="#b4c6d3"/><circle cx="328.6" cy="668" r="2.2" fill="none" stroke="#8a9aa8" stroke-width="0.5"/><circle cx="328.6" cy="681.6" r="4.1" fill="#e2e7eb" stroke="#f4f7f9" stroke-width="0.9"/><circle cx="328.6" cy="681.6" r="2.2" fill="#b4c6d3"/><circle cx="328.6" cy="681.6" r="2.2" fill="none" stroke="#8a9aa8" stroke-width="0.5"/><circle cx="288" cy="698" r="4.1" fill="#e2e7eb" stroke="#f4f7f9" stroke-width="0.9"/><circle cx="288" cy="698" r="2.2" fill="#b4c6d3"/><circle cx="288" cy="698" r="2.2" fill="none" stroke="#8a9aa8" stroke-width="0.5"/><circle cx="319.6" cy="698" r="4.1" fill="#e2e7eb" stroke="#f4f7f9" stroke-width="0.9"/><circle cx="319.6" cy="698" r="2.2" fill="#b4c6d3"/><circle cx="319.6" cy="698" r="2.2" fill="none" stroke="#8a9aa8" stroke-width="0.5"/><circle cx="255" cy="715" r="4.1" fill="#e2e7eb" stroke="#f4f7f9" stroke-width="0.9"/><circle cx="255" cy="715" r="2.2" fill="#b4c6d3"/><circle cx="255" cy="715" r="2.2" fill="none" stroke="#8a9aa8" stroke-width="0.5"/><circle cx="288" cy="715" r="4.1" fill="#e2e7eb" stroke="#f4f7f9" stroke-width="0.9"/><circle cx="288" cy="715" r="2.2" fill="#b4c6d3"/><circle cx="288" cy="715" r="2.2" fill="none" stroke="#8a9aa8" stroke-width="0.5"/><circle cx="318.6" cy="715.6" r="4.1" fill="#e2e7eb" stroke="#f4f7f9" stroke-width="0.9"/><circle cx="318.6" cy="715.6" r="2.2" fill="#b4c6d3"/><circle cx="318.6" cy="715.6" r="2.2" fill="none" stroke="#8a9aa8" stroke-width="0.5"/><circle cx="339.4" cy="716" r="4.1" fill="#e2e7eb" stroke="#f4f7f9" stroke-width="0.9"/><circle cx="339.4" cy="716" r="2.2" fill="#b4c6d3"/><circle cx="339.4" cy="716" r="2.2" fill="none" stroke="#8a9aa8" stroke-width="0.5"/><circle cx="371.6" cy="716" r="4.1" fill="#e2e7eb" stroke="#f4f7f9" stroke-width="0.9"/><circle cx="371.6" cy="716" r="2.2" fill="#b4c6d3"/><circle cx="371.6" cy="716" r="2.2" fill="none" stroke="#8a9aa8" stroke-width="0.5"/><circle cx="355.6" cy="729.6" r="4.1" fill="#e2e7eb" stroke="#f4f7f9" stroke-width="0.9"/><circle cx="355.6" cy="729.6" r="2.2" fill="#b4c6d3"/><circle cx="355.6" cy="729.6" r="2.2" fill="none" stroke="#8a9aa8" stroke-width="0.5"/><circle cx="354.4" cy="667" r="4.1" fill="#e2e7eb" stroke="#f4f7f9" stroke-width="0.9"/><circle cx="354.4" cy="667" r="2.2" fill="#b4c6d3"/><circle cx="354.4" cy="667" r="2.2" fill="none" stroke="#8a9aa8" stroke-width="0.5"/><circle cx="347" cy="698" r="4.1" fill="#e2e7eb" stroke="#f4f7f9" stroke-width="0.9"/><circle cx="347" cy="698" r="2.2" fill="#b4c6d3"/><circle cx="347" cy="698" r="2.2" fill="none" stroke="#8a9aa8" stroke-width="0.5"/><circle cx="361" cy="698" r="4.1" fill="#e2e7eb" stroke="#f4f7f9" stroke-width="0.9"/><circle cx="361" cy="698" r="2.2" fill="#b4c6d3"/><circle cx="361" cy="698" r="2.2" fill="none" stroke="#8a9aa8" stroke-width="0.5"/><circle cx="436.4" cy="669.6" r="4.1" fill="#e2e7eb" stroke="#f4f7f9" stroke-width="0.9"/><circle cx="436.4" cy="669.6" r="2.2" fill="#b4c6d3"/><circle cx="436.4" cy="669.6" r="2.2" fill="none" stroke="#8a9aa8" stroke-width="0.5"/><circle cx="460" cy="670" r="4.1" fill="#e2e7eb" stroke="#f4f7f9" stroke-width="0.9"/><circle cx="460" cy="670" r="2.2" fill="#b4c6d3"/><circle cx="460" cy="670" r="2.2" fill="none" stroke="#8a9aa8" stroke-width="0.5"/><circle cx="460" cy="682.4" r="4.1" fill="#e2e7eb" stroke="#f4f7f9" stroke-width="0.9"/><circle cx="460" cy="682.4" r="2.2" fill="#b4c6d3"/><circle cx="460" cy="682.4" r="2.2" fill="none" stroke="#8a9aa8" stroke-width="0.5"/><circle cx="429" cy="699" r="4.1" fill="#e2e7eb" stroke="#f4f7f9" stroke-width="0.9"/><circle cx="429" cy="699" r="2.2" fill="#b4c6d3"/><circle cx="429" cy="699" r="2.2" fill="none" stroke="#8a9aa8" stroke-width="0.5"/><circle cx="467" cy="701" r="4.1" fill="#e2e7eb" stroke="#f4f7f9" stroke-width="0.9"/><circle cx="467" cy="701" r="2.2" fill="#b4c6d3"/><circle cx="467" cy="701" r="2.2" fill="none" stroke="#8a9aa8" stroke-width="0.5"/><circle cx="499" cy="701" r="4.1" fill="#e2e7eb" stroke="#f4f7f9" stroke-width="0.9"/><circle cx="499" cy="701" r="2.2" fill="#b4c6d3"/><circle cx="499" cy="701" r="2.2" fill="none" stroke="#8a9aa8" stroke-width="0.5"/><circle cx="410" cy="718" r="4.1" fill="#e2e7eb" stroke="#f4f7f9" stroke-width="0.9"/><circle cx="410" cy="718" r="2.2" fill="#b4c6d3"/><circle cx="410" cy="718" r="2.2" fill="none" stroke="#8a9aa8" stroke-width="0.5"/><circle cx="442" cy="718" r="4.1" fill="#e2e7eb" stroke="#f4f7f9" stroke-width="0.9"/><circle cx="442" cy="718" r="2.2" fill="#b4c6d3"/><circle cx="442" cy="718" r="2.2" fill="none" stroke="#8a9aa8" stroke-width="0.5"/><circle cx="467" cy="717" r="4.1" fill="#e2e7eb" stroke="#f4f7f9" stroke-width="0.9"/><circle cx="467" cy="717" r="2.2" fill="#b4c6d3"/><circle cx="467" cy="717" r="2.2" fill="none" stroke="#8a9aa8" stroke-width="0.5"/><circle cx="499" cy="717" r="4.1" fill="#e2e7eb" stroke="#f4f7f9" stroke-width="0.9"/><circle cx="499" cy="717" r="2.2" fill="#b4c6d3"/><circle cx="499" cy="717" r="2.2" fill="none" stroke="#8a9aa8" stroke-width="0.5"/><circle cx="537.4" cy="717" r="4.1" fill="#e2e7eb" stroke="#f4f7f9" stroke-width="0.9"/><circle cx="537.4" cy="717" r="2.2" fill="#b4c6d3"/><circle cx="537.4" cy="717" r="2.2" fill="none" stroke="#8a9aa8" stroke-width="0.5"/><circle cx="431" cy="731" r="4.1" fill="#e2e7eb" stroke="#f4f7f9" stroke-width="0.9"/><circle cx="431" cy="731" r="2.2" fill="#b4c6d3"/><circle cx="431" cy="731" r="2.2" fill="none" stroke="#8a9aa8" stroke-width="0.5"/><rect x="261.5" y="710.5" width="9" height="9" fill="#d6dce1" stroke="#f2f5f7" stroke-width="0.9"/><circle cx="266" cy="715" r="2.3" fill="#a9bccb"/><circle cx="266" cy="715" r="2.3" fill="none" stroke="#8a9aa8" stroke-width="0.5"/><rect x="349.9" y="673.9" width="9" height="9" fill="#d6dce1" stroke="#f2f5f7" stroke-width="0.9"/><circle cx="354.4" cy="678.4" r="2.3" fill="#a9bccb"/><circle cx="354.4" cy="678.4" r="2.3" fill="none" stroke="#8a9aa8" stroke-width="0.5"/><rect x="431.9" y="675.9" width="9" height="9" fill="#d6dce1" stroke="#f2f5f7" stroke-width="0.9"/><circle cx="436.4" cy="680.4" r="2.3" fill="#a9bccb"/><circle cx="436.4" cy="680.4" r="2.3" fill="none" stroke="#8a9aa8" stroke-width="0.5"/><rect x="521.9" y="712.5" width="9" height="9" fill="#d6dce1" stroke="#f2f5f7" stroke-width="0.9"/><circle cx="526.4" cy="717" r="2.3" fill="#a9bccb"/><circle cx="526.4" cy="717" r="2.3" fill="none" stroke="#8a9aa8" stroke-width="0.5"/><circle cx="288" cy="730.6" r="3.3" fill="#fff"/><circle cx="513.4" cy="706.4" r="2.6" fill="#fff"/><circle cx="355" cy="673.2" r="10" fill="none" stroke="#fff" stroke-width="1"/><circle cx="436.3" cy="675" r="10" fill="none" stroke="#fff" stroke-width="1"/><rect x="342.8" y="689.4" width="24" height="17" rx="7" fill="none" stroke="#fff" stroke-width="1"/><rect x="424" y="690.4" width="24" height="17" rx="7" fill="none" stroke="#fff" stroke-width="1"/><rect x="353" y="692" width="3" height="3" fill="none" stroke="#fff" stroke-width="0.7"/><rect x="353" y="696.4" width="3" height="3" fill="none" stroke="#fff" stroke-width="0.7"/><rect x="353" y="700.8" width="3" height="3" fill="none" stroke="#fff" stroke-width="0.7"/><text transform="translate(368,664.4) scale(1,1.18)" font-size="5.8" fill="#fff" text-anchor="start" font-family="Liberation Mono, monospace" stroke="#fff" stroke-width="0.22" >D4</text><text transform="translate(368,671.3) scale(1,1.18)" font-size="5.4" fill="#fff" text-anchor="start" font-family="Liberation Mono, monospace" stroke="#fff" stroke-width="0.22" >LED1</text><text transform="translate(408.6,666.6) scale(1,1.18)" font-size="5.8" fill="#fff" text-anchor="start" font-family="Liberation Mono, monospace" stroke="#fff" stroke-width="0.22" >D5</text><text transform="translate(408,673.4) scale(1,1.18)" font-size="5.4" fill="#fff" text-anchor="start" font-family="Liberation Mono, monospace" stroke="#fff" stroke-width="0.22" >LED2</text><text transform="translate(368,701) scale(1,1.18)" font-size="5.4" fill="#fff" text-anchor="start" font-family="Liberation Mono, monospace" stroke="#fff" stroke-width="0.22" >GR</text><text transform="translate(368,707.8) scale(1,1.18)" font-size="5.8" fill="#fff" text-anchor="start" font-family="Liberation Mono, monospace" stroke="#fff" stroke-width="0.22" >R13</text><text transform="translate(424.6,701.4) scale(1,1.18)" font-size="5.4" fill="#fff" text-anchor="end" font-family="Liberation Mono, monospace" stroke="#fff" stroke-width="0.22" >GR</text><text transform="translate(424.2,708.2) scale(1,1.18)" font-size="5.8" fill="#fff" text-anchor="end" font-family="Liberation Mono, monospace" stroke="#fff" stroke-width="0.22" >R14</text><text x="374" y="735.4" font-size="20" font-style="italic" fill="#fff" textLength="50" lengthAdjust="spacing" stroke="#fff" stroke-width="0.3">Back</text></g>
<g><path d="M179,675.3 H249" fill="none" stroke="#1c64c8" stroke-width="1.8" stroke-linejoin="miter"/><path d="M247,675.3 H347" fill="none" stroke="#fff" stroke-width="4.9" stroke-linejoin="miter"/><path d="M247,675.3 H347" fill="none" stroke="#1c64c8" stroke-width="1.8" stroke-linejoin="miter"/><path d="M444.5,697.4 H526.5" fill="none" stroke="#fff" stroke-width="4.9" stroke-linejoin="miter"/><path d="M444.5,697.4 H526.5" fill="none" stroke="#1c64c8" stroke-width="1.8" stroke-linejoin="miter"/><path d="M524,697.4 H612.5" fill="none" stroke="#1c64c8" stroke-width="1.8" stroke-linejoin="miter"/><circle cx="175.3" cy="675.3" r="3.6" fill="#fff" stroke="#1c64c8" stroke-width="1.7"/><circle cx="616" cy="697.2" r="3.6" fill="#fff" stroke="#1c64c8" stroke-width="1.7"/><circle cx="350.4" cy="675.3" r="5.0" fill="#fff"/><circle cx="350.4" cy="675.3" r="3.3" fill="#fff" stroke="#1c64c8" stroke-width="1.7"/><circle cx="441" cy="697.4" r="5.0" fill="#fff"/><circle cx="441" cy="697.4" r="3.3" fill="#fff" stroke="#1c64c8" stroke-width="1.7"/></g>
<g><text x="51.3" y="191.8" font-size="10.4" fill="#111" textLength="60.0" lengthAdjust="spacingAndGlyphs" font-weight="normal" stroke="#111" stroke-width="0.22">CAPACITOR</text><text x="51.3" y="204" font-size="10.4" textLength="60.0" lengthAdjust="spacingAndGlyphs"><tspan fill="#111" stroke="#111" stroke-width="0.22">100UF </tspan><tspan fill="#1f8a64" stroke="#1f8a64" stroke-width="0.22">C1 C2</tspan></text><text x="170" y="191.8" font-size="10.4" fill="#111" textLength="44.4" lengthAdjust="spacingAndGlyphs" font-weight="normal" stroke="#111" stroke-width="0.22">RED LED</text><text x="178.8" y="204" font-size="10.4" fill="#1f8a64" textLength="28.2" lengthAdjust="spacingAndGlyphs" font-weight="normal" stroke="#1f8a64" stroke-width="0.22">D1 D2</text><text x="61.4" y="352.8" font-size="10.4" fill="#111" textLength="37.6" lengthAdjust="spacingAndGlyphs" font-weight="normal" stroke="#111" stroke-width="0.22">TRIODE</text><text x="66.3" y="366" font-size="10.4" fill="#1f8a64" textLength="28.7" lengthAdjust="spacingAndGlyphs" font-weight="normal" stroke="#1f8a64" stroke-width="0.22">Q1 Q2</text><text x="122.8" y="353" font-size="10.4" fill="#111" textLength="44.2" lengthAdjust="spacingAndGlyphs" font-weight="normal" stroke="#111" stroke-width="0.22">IC LM393</text><text x="136.4" y="365.6" font-size="10.4" fill="#1f8a64" textLength="16.0" lengthAdjust="spacingAndGlyphs" font-weight="normal" stroke="#1f8a64" stroke-width="0.22">IC1</text><text x="191" y="353" font-size="10.4" fill="#111" textLength="69.6" lengthAdjust="spacingAndGlyphs" font-weight="normal" stroke="#111" stroke-width="0.22">8-PIN IC BASE</text><text x="218" y="365.6" font-size="10.4" fill="#1f8a64" textLength="16.0" lengthAdjust="spacingAndGlyphs" font-weight="normal" stroke="#1f8a64" stroke-width="0.22">IC1</text><text x="38.8" y="546.3" font-size="10.4" fill="#111" textLength="88.2" lengthAdjust="spacingAndGlyphs" font-weight="normal" stroke="#111" stroke-width="0.22">POTENTIOMETER</text><text x="60" y="558.2" font-size="10.4" textLength="46.0" lengthAdjust="spacingAndGlyphs"><tspan fill="#111" stroke="#111" stroke-width="0.22">10K </tspan><tspan fill="#1f8a64" stroke="#1f8a64" stroke-width="0.22">R1 R2</tspan></text><text x="158.8" y="546.3" font-size="10.4" fill="#111" textLength="63.2" lengthAdjust="spacingAndGlyphs" font-weight="normal" stroke="#111" stroke-width="0.22">KEY SWITCH</text><text x="184.6" y="558.2" font-size="10.4" fill="#1f8a64" textLength="11.0" lengthAdjust="spacingAndGlyphs" font-weight="normal" stroke="#1f8a64" stroke-width="0.22">S1</text><text x="133" y="724" font-size="10.4" fill="#111" textLength="44.0" lengthAdjust="spacingAndGlyphs" font-weight="normal" stroke="#111" stroke-width="0.22">RED LED</text><text x="141" y="736.5" font-size="10.4" fill="#1f8a64" textLength="27.8" lengthAdjust="spacingAndGlyphs" font-weight="normal" stroke="#1f8a64" stroke-width="0.22">D3 D4</text><text x="630" y="191.3" font-size="10.4" fill="#111" textLength="52.5" lengthAdjust="spacingAndGlyphs" font-weight="normal" stroke="#111" stroke-width="0.22">RESISTOR</text><text x="611" y="203.8" font-size="10.4" textLength="89.0" lengthAdjust="spacingAndGlyphs"><tspan fill="#111" stroke="#111" stroke-width="0.22">51Ω </tspan><tspan fill="#1f8a64" stroke="#1f8a64" stroke-width="0.22">R5 R6 R10 R12</tspan></text><text x="590.4" y="353.8" font-size="10.4" fill="#111" textLength="52.9" lengthAdjust="spacingAndGlyphs" font-weight="normal" stroke="#111" stroke-width="0.22">RESISTOR</text><text x="591" y="366.8" font-size="10.4" textLength="53.0" lengthAdjust="spacingAndGlyphs"><tspan fill="#111" stroke="#111" stroke-width="0.22">10K </tspan><tspan fill="#1f8a64" stroke="#1f8a64" stroke-width="0.22">R9 R10</tspan></text><text x="684" y="353.8" font-size="10.4" fill="#111" textLength="52.6" lengthAdjust="spacingAndGlyphs" font-weight="normal" stroke="#111" stroke-width="0.22">RESISTOR</text><text x="690" y="366.8" font-size="10.4" textLength="41.0" lengthAdjust="spacingAndGlyphs"><tspan fill="#111" stroke="#111" stroke-width="0.22">1K </tspan><tspan fill="#1f8a64" stroke="#1f8a64" stroke-width="0.22">R7 R8</tspan></text><text x="627.8" y="546.3" font-size="10.4" fill="#111" textLength="72.2" lengthAdjust="spacingAndGlyphs" font-weight="normal" stroke="#111" stroke-width="0.22">BATTERY BOX</text><text x="653" y="557.9" font-size="10.4" fill="#1f8a64" textLength="21.0" lengthAdjust="spacingAndGlyphs" font-weight="normal" stroke="#1f8a64" stroke-width="0.22">D2-5</text><text x="590.5" y="721.3" font-size="10.4" fill="#111" textLength="146.3" lengthAdjust="spacingAndGlyphs" font-weight="normal" stroke="#111" stroke-width="0.22">PHOTOSENSITIVE RESISTOR</text><text x="645.5" y="733.8" font-size="10.4" fill="#1f8a64" textLength="37.0" lengthAdjust="spacingAndGlyphs" font-weight="normal" stroke="#1f8a64" stroke-width="0.22">R13 R14</text><text x="101.3" y="179.4" font-size="10.4" fill="#111" stroke="#111" stroke-width="0.25">x2</text><text x="208" y="179.4" font-size="10.4" fill="#111" stroke="#111" stroke-width="0.25">x2</text><text x="92" y="343" font-size="10.4" fill="#111" stroke="#111" stroke-width="0.25">x2</text><text x="113.8" y="534" font-size="10.4" fill="#111" stroke="#111" stroke-width="0.25">x2</text><text x="166" y="709" font-size="10.4" fill="#111" stroke="#111" stroke-width="0.25">x2</text><text x="675.5" y="180" font-size="10.4" fill="#111" stroke="#111" stroke-width="0.25">x4</text><text x="639" y="343.3" font-size="10.4" fill="#111" stroke="#111" stroke-width="0.25">x2</text><text x="727.5" y="343.3" font-size="10.4" fill="#111" stroke="#111" stroke-width="0.25">x2</text><text x="705.8" y="708.8" font-size="10.4" fill="#111" stroke="#111" stroke-width="0.25">x2</text></g>
<g><g transform="translate(46.5,174.4)"><mask id="ma" maskUnits="userSpaceOnUse" x="-20" y="-44.879999999999995" width="337.5" height="63.58"><rect x="-20" y="-44.879999999999995" width="337.5" height="63.58" fill="#fff"/><text x="0" y="0" font-size="37.4" textLength="277.5" lengthAdjust="spacing" fill="#000">DWC-LSI Store</text></mask><mask id="na" maskUnits="userSpaceOnUse" x="-20" y="-44.879999999999995" width="337.5" height="63.58"><rect x="-20" y="-44.879999999999995" width="337.5" height="63.58" fill="#fff"/><text x="1.4" y="1.4" font-size="37.4" textLength="277.5" lengthAdjust="spacing" fill="#000">DWC-LSI Store</text></mask><text x="0" y="0" font-size="37.4" textLength="277.5" lengthAdjust="spacing" fill="#fff" opacity="0.88">DWC-LSI Store</text><text x="0" y="0" font-size="37.4" textLength="277.5" lengthAdjust="spacing" fill="none" stroke="#444" stroke-width="0.8" opacity="0.4">DWC-LSI Store</text><g mask="url(#na)"><text x="0" y="0" font-size="37.4" textLength="277.5" lengthAdjust="spacing" fill="#fff" opacity="0.9">DWC-LSI Store</text></g><g mask="url(#ma)"><text x="1.4" y="1.4" font-size="37.4" textLength="277.5" lengthAdjust="spacing" fill="#2a2a2a" opacity="0.8">DWC-LSI Store</text></g></g><g transform="translate(319,760.8)"><mask id="mb" maskUnits="userSpaceOnUse" x="-20" y="-44.64" width="338.5" height="63.24"><rect x="-20" y="-44.64" width="338.5" height="63.24" fill="#fff"/><text x="0" y="0" font-size="37.2" textLength="278.5" lengthAdjust="spacing" fill="#000">DWC-LSI Store</text></mask><mask id="nb" maskUnits="userSpaceOnUse" x="-20" y="-44.64" width="338.5" height="63.24"><rect x="-20" y="-44.64" width="338.5" height="63.24" fill="#fff"/><text x="1.4" y="1.4" font-size="37.2" textLength="278.5" lengthAdjust="spacing" fill="#000">DWC-LSI Store</text></mask><text x="0" y="0" font-size="37.2" textLength="278.5" lengthAdjust="spacing" fill="#fff" opacity="0.6">DWC-LSI Store</text><text x="0" y="0" font-size="37.2" textLength="278.5" lengthAdjust="spacing" fill="none" stroke="#444" stroke-width="0.8" opacity="0.4">DWC-LSI Store</text><g mask="url(#nb)"><text x="0" y="0" font-size="37.2" textLength="278.5" lengthAdjust="spacing" fill="#fff" opacity="0.9">DWC-LSI Store</text></g><g mask="url(#mb)"><text x="1.4" y="1.4" font-size="37.2" textLength="278.5" lengthAdjust="spacing" fill="#2a2a2a" opacity="0.8">DWC-LSI Store</text></g></g><g transform="translate(89.5,768.3) rotate(-44)"><mask id="mc" maskUnits="userSpaceOnUse" x="-20" y="-157.79999999999998" width="998" height="223.54999999999998"><rect x="-20" y="-157.79999999999998" width="998" height="223.54999999999998" fill="#fff"/><text x="0" y="0" font-size="131.5" textLength="938" lengthAdjust="spacing" fill="#000">DWC-LSI Store</text></mask><g mask="url(#mc)"><text x="-0.3" y="1.5" font-size="131.5" textLength="938" lengthAdjust="spacing" fill="#2a2a2a" opacity="0.8">DWC-LSI Store</text></g></g></g>
</svg>
</body></html>
